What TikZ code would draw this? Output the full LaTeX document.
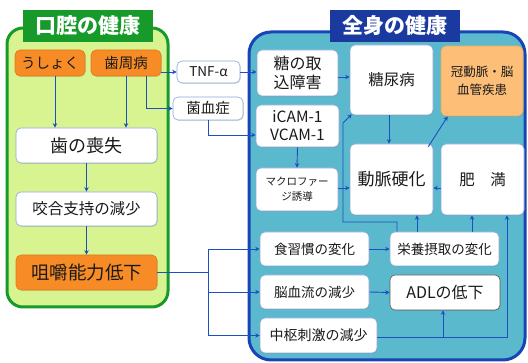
\documentclass[tikz,border=0pt]{standalone}
\usepackage{fontspec}
\setmainfont{Noto Sans CJK JP}
\usetikzlibrary{arrows.meta,shadows,calc}
\definecolor{lgreen}{HTML}{D8F490}
\definecolor{dgreen}{HTML}{169A2A}
\definecolor{pblue}{HTML}{5BB9CD}
\definecolor{dblue}{HTML}{1745B5}
\definecolor{tblue}{HTML}{1A3AA0}
\definecolor{lnblue}{HTML}{1C4FC0}
\definecolor{bord}{HTML}{8FA8D8}
\definecolor{orng}{HTML}{F78B26}
\definecolor{orngb}{HTML}{E07B1A}
\definecolor{peach}{HTML}{FDBE78}
\definecolor{peachb}{HTML}{E8A860}
\definecolor{txt}{HTML}{1A1A1A}
\tikzset{
  base/.style={rounded corners=5pt, inner sep=0pt, align=center, text=txt,
    drop shadow={opacity=0.25, shadow xshift=0.8pt, shadow yshift=-0.8pt}},
  wbox/.style={base, draw=bord, line width=0.6pt, fill=white},
  obox/.style={base, draw=orngb, line width=0.6pt, fill=orng},
  pbox/.style={base, draw=peachb, line width=0.6pt, fill=peach},
  gbox/.style={base, draw=black!65, line width=0.6pt, fill=white},
  ttl/.style={inner sep=0pt, text=white, font=\fontsize{21}{24}\selectfont\bfseries},
  conn/.style={draw=lnblue, line width=0.9pt, -{Stealth[length=4.5pt,width=4.5pt]}},
  plain/.style={draw=lnblue, line width=0.9pt},
}
\begin{document}
\begin{tikzpicture}[x=1pt,y=-1pt]
\useasboundingbox (0,0) rectangle (528,363);
\fill[white] (0,0) rectangle (528,363);
% panels
\draw[draw=dgreen, line width=3pt, fill=lgreen, rounded corners=16pt] (7,28) rectangle (168,307);
\draw[draw=dblue, line width=3pt, fill=pblue, rounded corners=22pt] (249,32) rectangle (525,360);
\node[ttl, fill=dgreen, minimum width=130pt, minimum height=32pt] (tl) at (88,26) {口腔の健康};
\node[ttl, fill=tblue, minimum width=130pt, minimum height=32pt] (tr) at (395,26) {全身の健康};
% left boxes
\node[obox, minimum width=70pt, minimum height=26pt, font=\fontsize{14.5}{16}\selectfont] (usho) at (50,63) {うしょく};
\node[obox, minimum width=70pt, minimum height=26pt, font=\fontsize{14.5}{16}\selectfont] (shishu) at (126,63) {歯周病};
\node[wbox, minimum width=141pt, minimum height=35pt, font=\fontsize{18}{20}\selectfont] (loss) at (86.5,145.5) {歯の喪失};
\node[wbox, minimum width=141pt, minimum height=34pt, font=\fontsize{15.5}{18}\selectfont] (occl) at (86.5,209) {咬合支持の減少};
\node[obox, minimum width=141pt, minimum height=35pt, font=\fontsize{18.5}{20}\selectfont] (mast) at (86.5,272.5) {咀嚼能力低下};
% middle boxes
\node[wbox, minimum width=63pt, minimum height=22pt, font=\fontsize{13.5}{15}\selectfont] (tnf) at (208.5,72) {TNF-α};
\node[wbox, minimum width=70pt, minimum height=23pt, font=\fontsize{14.5}{16}\selectfont] (kin) at (208,108.5) {菌血症};
% right boxes
\node[wbox, minimum width=81pt, minimum height=46pt, font=\fontsize{16}{19}\selectfont] (touno) at (297.5,73) {糖の取\\込障害};
\node[wbox, minimum width=83pt, minimum height=42pt, font=\fontsize{15.5}{18}\selectfont] (icam) at (297.5,126) {iCAM-1\\VCAM-1};
\node[wbox, minimum width=82pt, minimum height=43pt, font=\fontsize{10.5}{15}\selectfont] (macro) at (297,189.5) {マクロファー\\ジ誘導};
\node[wbox, minimum width=83pt, minimum height=70pt, font=\fontsize{15.5}{18}\selectfont] (dm) at (391.5,80) {糖尿病};
\node[pbox, minimum width=82pt, minimum height=70pt, font=\fontsize{12.5}{18}\selectfont] (cad) at (482,81) {冠動脈・脳\\血管疾患};
\node[wbox, minimum width=83pt, minimum height=71pt, font=\fontsize{17}{19}\selectfont] (athero) at (391.5,179.5) {動脈硬化};
\node[wbox, minimum width=83pt, minimum height=71pt, font=\fontsize{15.5}{18}\selectfont] (obes) at (482.5,179.5) {肥　満};
\node[wbox, minimum width=109pt, minimum height=34pt, font=\fontsize{13.5}{16}\selectfont] (diet) at (314.5,249) {食習慣の変化};
\node[wbox, minimum width=109pt, minimum height=34pt, font=\fontsize{13.5}{16}\selectfont] (nutr) at (444.5,249) {栄養摂取の変化};
\node[wbox, minimum width=109pt, minimum height=34pt, font=\fontsize{13.5}{16}\selectfont] (cbf) at (314.5,292) {脳血流の減少};
\node[gbox, minimum width=110pt, minimum height=35pt, font=\fontsize{16}{18}\selectfont] (adl) at (445,292.5) {ADLの低下};
\node[wbox, minimum width=117pt, minimum height=35pt, font=\fontsize{14}{16}\selectfont] (cns) at (318.5,335.5) {中枢刺激の減少};
% connectors left
\draw[conn] ([xshift=5pt]usho.south) -- ([xshift=5pt]usho.south |- loss.north);
\draw[conn] (shishu.south) -- (shishu.south |- loss.north);
\draw[conn] (loss.south) -- (occl.north);
\draw[conn] (occl.south) -- (mast.north);
\draw[conn] (shishu.east |- tnf.west) -- (tnf.west);
\draw[conn] (shishu.south -| 146,0) |- (kin.west);
\draw[conn] (kin.south) |- (icam.west |- 0,135);
\draw[conn] (tnf.east) -- (tnf.east -| touno.west);
\coordinate (bx) at (208,272.5);
\draw[plain] (mast.east) -- (bx);
\draw[conn] (bx) |- (diet.west);
\draw[conn] (bx) |- (cbf.west);
\draw[conn] (bx) |- (cns.west);
% connectors right
\draw[conn] (touno.east |- 0,77) -- (dm.west |- 0,77);
\draw[conn] (dm.south -| 389,0) -- (athero.north -| 389,0);
\draw[conn] ($(athero.north east)+(-5,3)$) -- ($(cad.south west)+(7,0)$);
\draw[conn] (icam.south) -- (macro.north);
\draw[conn] (macro.east |- 0,188) -- (athero.west |- 0,188);
\draw[conn] (obes.west |- 0,188) -- (athero.east |- 0,188);
\draw[conn] (nutr.north -| 397,0) |- (343,222) -- (343,123) -- ($(dm.south west)+(2,-1)$);
\draw[conn] (nutr.north -| 417,0) -- (athero.south -| 417,0);
\draw[conn] (nutr.north -| 472,0) -- (obes.south -| 472,0);
\draw[conn] (diet.east) -- (nutr.west);
\draw[conn] (cbf.east) -- (adl.west);
\coordinate (jn) at (443,337);
\draw[conn] (cns.east |- jn) -| (obes.south -| 507,0);
\draw[conn] (jn) -- (adl.south -| jn);
\end{tikzpicture}
\end{document}
